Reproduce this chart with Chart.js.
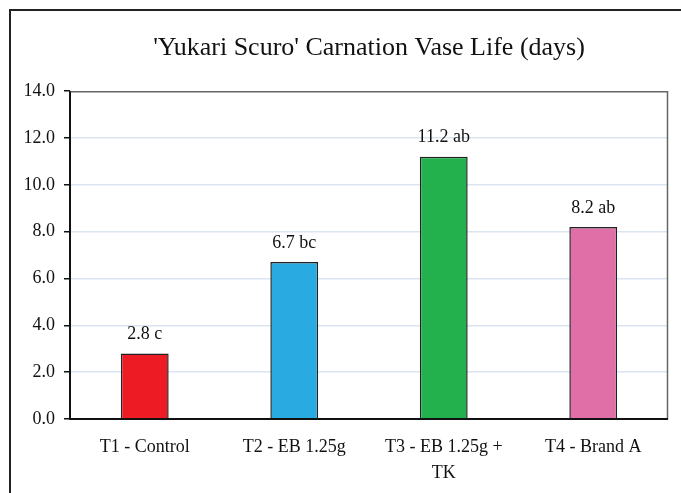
<!DOCTYPE html>
<html>
<head>
<meta charset="utf-8">
<script src="https://cdn.jsdelivr.net/npm/chart.js@4"></script>
<style>
html,body{margin:0;padding:0;background:#fff;}
#wrap{position:relative;width:681px;height:493px;}
</style>
</head>
<body>
<div id="wrap"><canvas id="c" width="681" height="493"></canvas></div>
<script>
const categories = ['T1 - Control', 'T2 - EB 1.25g', ['T3 - EB 1.25g +', 'TK'], 'T4 - Brand A'];
const values = [2.8, 6.7, 11.2, 8.2];
const letters = ['c', 'bc', 'ab', 'ab'];
const barColors = ['#ed1c24', '#29abe2', '#22b14c', '#e06fa8'];
const titleText = "'Yukari Scuro' Carnation Vase Life (days)";
const yMin = 0, yMax = 14, yStep = 2;

const FONT = '"Liberation Serif", "Times New Roman", serif';

const framePlugin = {
  id: 'frame',
  beforeDraw(chart) {
    const ctx = chart.ctx;
    ctx.save();
    ctx.fillStyle = '#fff';
    ctx.fillRect(0, 0, chart.width, chart.height);
    ctx.strokeStyle = '#222';
    ctx.lineWidth = 2;
    ctx.strokeRect(10, 10, 720, 520);
    ctx.restore();
  },
  afterDatasetsDraw(chart) {
    const ctx = chart.ctx;
    const a = chart.chartArea;
    ctx.save();
    ctx.strokeStyle = '#666';
    ctx.lineWidth = 1.5;
    ctx.beginPath();
    ctx.moveTo(a.left, a.top + 0.5);
    ctx.lineTo(a.right - 0.5, a.top + 0.5);
    ctx.lineTo(a.right - 0.5, a.bottom);
    ctx.stroke();
    ctx.strokeStyle = '#111';
    ctx.lineWidth = 2;
    ctx.beginPath();
    ctx.moveTo(a.left, a.top);
    ctx.lineTo(a.left, a.bottom);
    ctx.lineTo(a.right, a.bottom);
    ctx.stroke();
    const meta = chart.getDatasetMeta(0);
    ctx.fillStyle = '#111';
    ctx.font = '18px ' + FONT;
    ctx.textAlign = 'center';
    ctx.textBaseline = 'middle';
    meta.data.forEach((bar, i) => {
      ctx.fillText(values[i].toFixed(1) + ' ' + letters[i], bar.x, bar.y - 19);
    });
    ctx.restore();
  }
};

new Chart(document.getElementById('c'), {
  type: 'bar',
  data: {
    labels: categories,
    datasets: [{
      data: values,
      backgroundColor: barColors,
      borderColor: '#222',
      borderWidth: 1.5,
      categoryPercentage: 1,
      barPercentage: 0.32
    }]
  },
  options: {
    responsive: false,
    animation: false,
    devicePixelRatio: 1,
    layout: { padding: { left: 0, right: 13, top: 0, bottom: 0 } },
    plugins: {
      legend: { display: false },
      tooltip: { enabled: false },
      title: {
        display: true,
        fullSize: false,
        text: titleText,
        color: '#111',
        font: { family: FONT, size: 26, weight: 'normal', lineHeight: 1.2 },
        padding: { top: 33, bottom: 27 }
      }
    },
    scales: {
      x: {
        grid: { display: false, drawTicks: false },
        border: { display: false },
        ticks: {
          color: '#111',
          font: { family: FONT, size: 18, lineHeight: 1.45 },
          padding: 15,
          maxRotation: 0,
          autoSkip: false
        },
        afterFit(s) { s.height = 74; }
      },
      y: {
        min: yMin,
        max: yMax,
        grid: {
          color: (c) => (c.tick && (c.tick.value === yMin || c.tick.value === yMax)) ? 'rgba(0,0,0,0)' : '#dbe5f1',
          lineWidth: 1.5,
          tickColor: '#111',
          tickLength: 6,
          drawTicks: true
        },
        border: { display: false },
        ticks: {
          stepSize: yStep,
          color: '#111',
          font: { family: FONT, size: 18 },
          padding: 9,
          callback: (v) => Number(v).toFixed(1)
        },
        afterFit(s) { s.width = 70; }
      }
    }
  },
  plugins: [framePlugin]
});
</script>
</body>
</html>
